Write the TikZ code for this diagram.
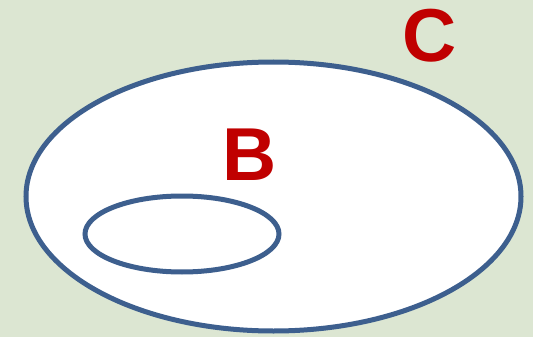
\documentclass[tikz,border=0pt]{standalone}
\usepackage{fontspec}
\setmainfont{Liberation Sans}
\usetikzlibrary{shapes.geometric}
\definecolor{bg}{HTML}{DCE6D2}
\definecolor{setblue}{HTML}{3D5F8E}
\definecolor{labred}{HTML}{C00000}
\tikzset{setline/.style={draw=setblue,line width=5pt,fill=white},
  setlabel/.style={text=labred,font=\bfseries\fontsize{75}{75}\selectfont,inner sep=0pt}}
\begin{document}
\begin{tikzpicture}[x=1pt,y=-1pt]
\fill[bg] (0,0) rectangle (533,337);
\useasboundingbox (0,0) rectangle (533,337);
\node[setline,ellipse,minimum width=495pt,minimum height=269pt,inner sep=0pt] (C) at (273.5,196.5) {};
\node[setline,ellipse,minimum width=194pt,minimum height=76pt,inner sep=0pt] (B) at (182,234) {};
\node[setlabel] (lB) at (250,155) {B};
\node[setlabel] (lC) at (430,36) {C};
\end{tikzpicture}
\end{document}
